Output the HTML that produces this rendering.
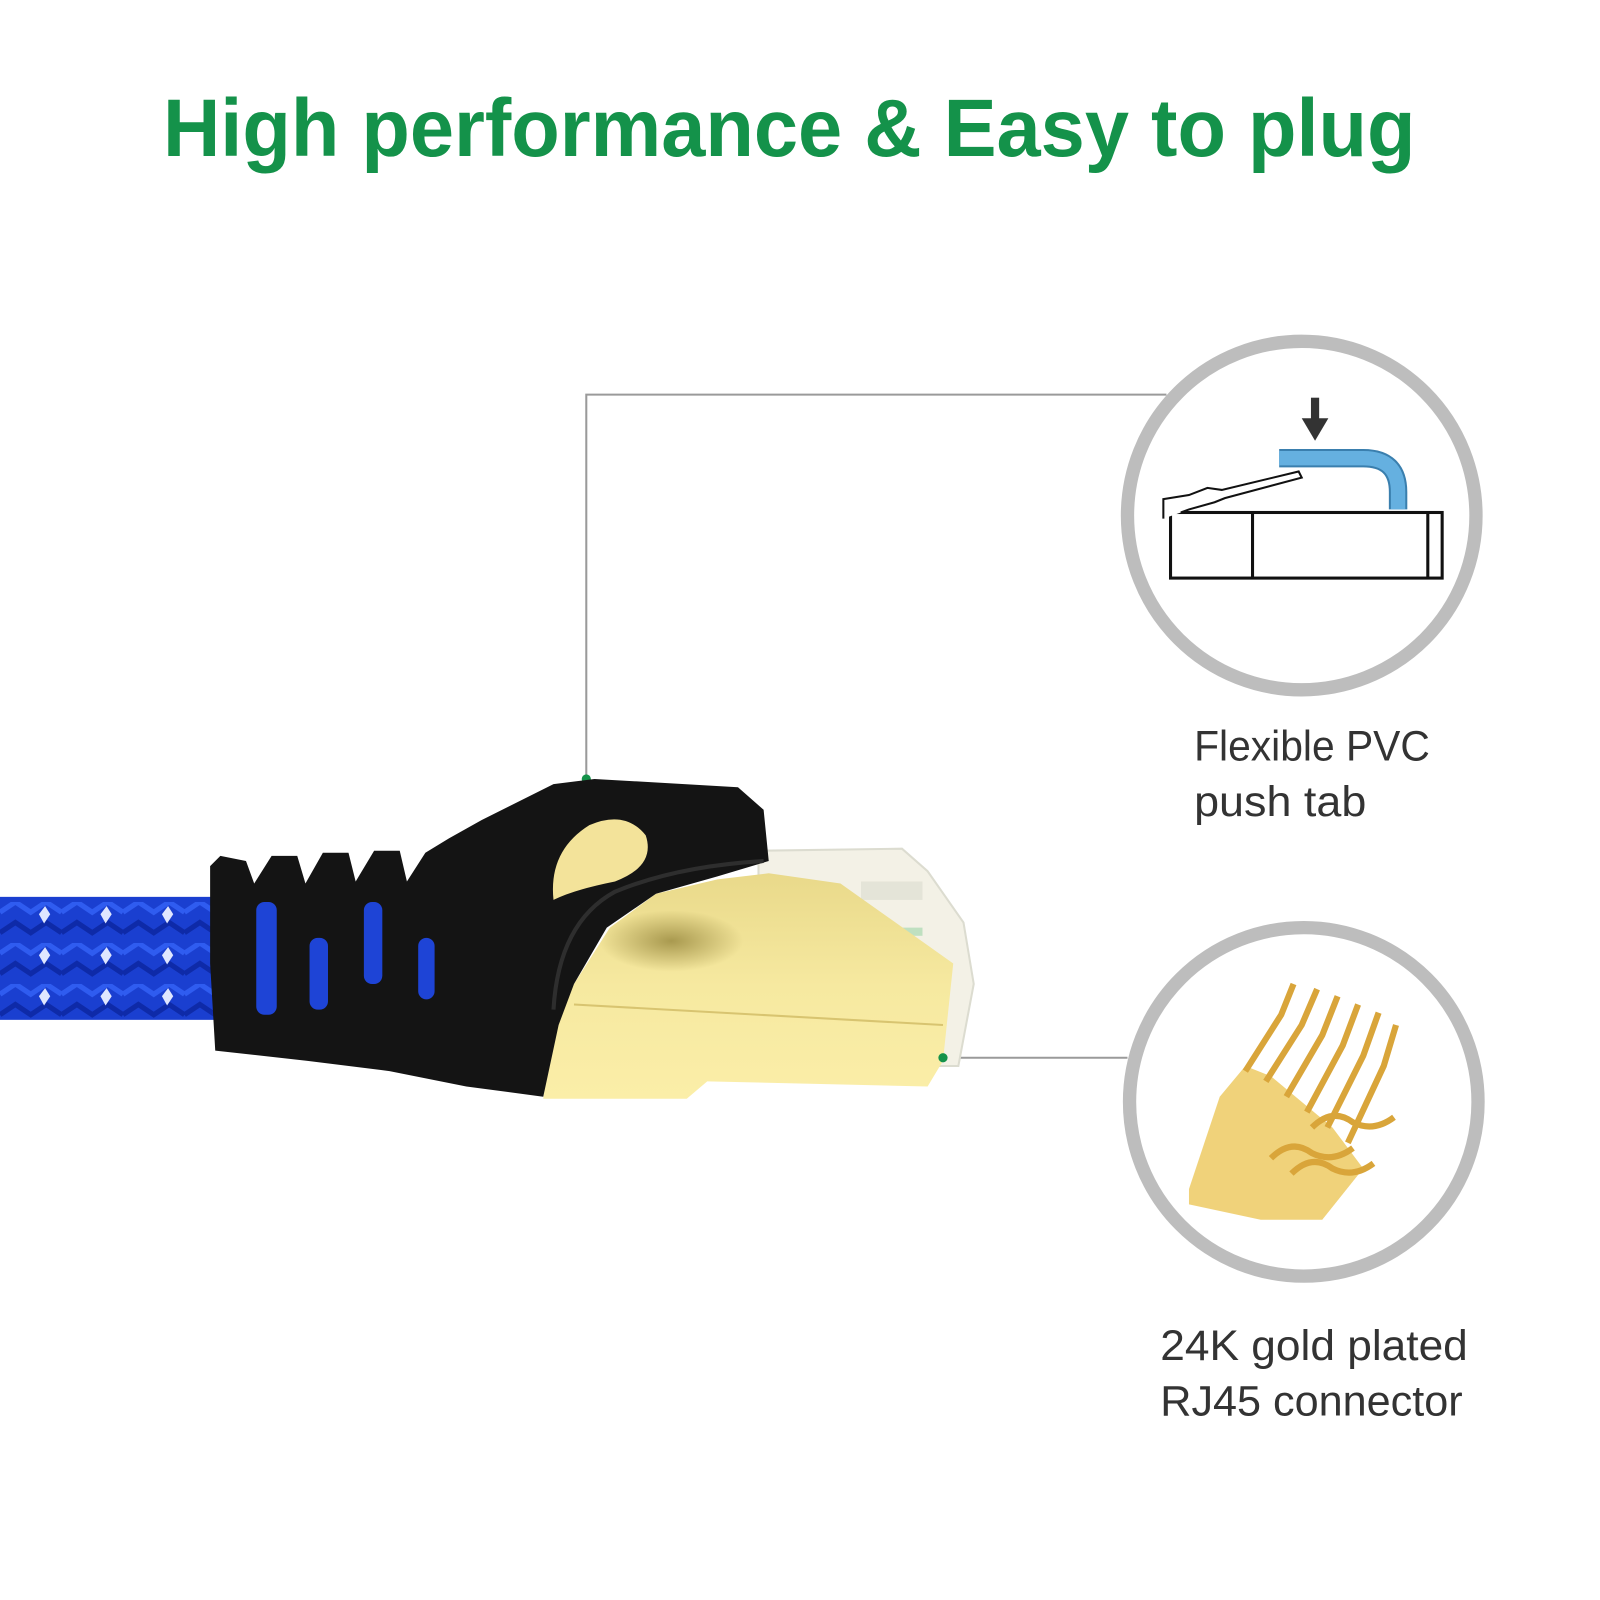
<!DOCTYPE html>
<html><head><meta charset="utf-8"><style>
html,body{margin:0;padding:0;background:#fff;}
svg{display:block;}
</style></head><body>
<svg width="1600" height="1600" viewBox="0 0 1561 1561" xmlns="http://www.w3.org/2000/svg">
<defs>
<linearGradient id="gold" x1="0" y1="0" x2="0" y2="1">
<stop offset="0" stop-color="#e9d98a"/><stop offset="0.5" stop-color="#f6e9a0"/><stop offset="1" stop-color="#fbeea8"/>
</linearGradient>
<radialGradient id="shade" cx="0.5" cy="0.5" r="0.5">
<stop offset="0" stop-color="#8a7a30" stop-opacity="0.7"/><stop offset="1" stop-color="#8a7a30" stop-opacity="0"/>
</radialGradient>
<pattern id="braid" width="60" height="40" patternUnits="userSpaceOnUse">
<rect width="60" height="40" fill="#1a3fd0"/>
<path d="M0 10 L15 0 L30 10 L45 0 L60 10" stroke="#2f5cf0" stroke-width="5" fill="none"/>
<path d="M0 30 L15 20 L30 30 L45 20 L60 30" stroke="#0e2aa8" stroke-width="5" fill="none"/>
<path d="M38 12 l6 -8 l5 8 l-6 9z" fill="#dfe6ff"/>
</pattern>
</defs>

<text x="770" y="152" text-anchor="middle" font-family="Liberation Sans, sans-serif" font-weight="bold" font-size="80" fill="#14924a" textLength="1222" lengthAdjust="spacingAndGlyphs">High performance &amp; Easy to plug</text>

<!-- connector lines -->
<polyline points="572,760 572,385 1138,385" fill="none" stroke="#9a9a9a" stroke-width="2"/>
<circle cx="572" cy="760" r="4.5" fill="#14924a"/>
<line x1="920" y1="1032" x2="1100" y2="1032" stroke="#9a9a9a" stroke-width="2"/>

<!-- cable -->
<rect x="0" y="875" width="235" height="120" fill="url(#braid)"/>
<!-- transparent plug -->
<polygon points="740,830 880,828 905,850 940,900 950,960 935,1040 905,1040 740,1000" fill="#f3f1e6" stroke="#dcdcd0" stroke-width="2"/>
<rect x="840" y="860" width="60" height="18" fill="#e4e4d8"/>
<rect x="860" y="905" width="40" height="8" fill="#bfe0c0"/>
<rect x="850" y="960" width="60" height="10" fill="#eac9a0"/>
<!-- gold shell -->
<polygon points="540,1000 560,960 595,905 640,872 700,858 750,852 820,862 930,940 920,1035 905,1060 690,1055 670,1072 530,1072" fill="url(#gold)"/>
<ellipse cx="655" cy="918" rx="70" ry="30" fill="url(#shade)"/>
<line x1="560" y1="980" x2="920" y2="1000" stroke="#d8c470" stroke-width="2"/>
<!-- black boot -->
<polygon points="205,845 215,835 240,840 248,862 265,835 290,835 298,862 315,832 340,832 347,860 365,830 390,830 397,860 415,832 438,818 470,800 540,765 580,760 720,768 745,790 750,840 700,855 640,872 592,905 560,960 545,1000 530,1070 455,1060 380,1045 300,1035 210,1025 205,940" fill="#141414"/>
<path d="M540,985 Q545,900 600,870 Q660,845 745,840" fill="none" stroke="#2e2e2e" stroke-width="4"/>
<!-- yellow window -->
<path d="M540,878 Q535,830 575,805 Q610,790 630,815 Q640,845 600,860 Q560,868 540,878z" fill="#f3e39a"/>
<!-- blue slots -->
<rect x="250" y="880" width="20" height="110" rx="8" fill="#1e44d6"/>
<rect x="302" y="915" width="18" height="70" rx="8" fill="#1e44d6"/>
<rect x="355" y="880" width="18" height="80" rx="8" fill="#1e44d6"/>
<rect x="408" y="915" width="16" height="60" rx="8" fill="#1e44d6"/>
<circle cx="920" cy="1032" r="4.5" fill="#14924a"/>

<!-- circle 1 -->
<circle cx="1270" cy="503" r="170" fill="#fff" stroke="#bdbdbd" stroke-width="13"/>
<rect x="1142" y="500" width="265" height="64" fill="#fff" stroke="#111" stroke-width="3"/>
<line x1="1222" y1="500" x2="1222" y2="564" stroke="#111" stroke-width="3"/>
<line x1="1393" y1="500" x2="1393" y2="564" stroke="#111" stroke-width="3"/>
<path d="M1135,506 L1135,487 L1160,483 L1178,476 L1192,478 L1267,460 L1270,466 L1195,486 L1185,490 L1160,497 L1152,500" fill="#fff" stroke="#111" stroke-width="2"/>
<path d="M1248,447 L1330,447 Q1364,447 1364,480 L1364,497" fill="none" stroke="#3a7fae" stroke-width="18" stroke-linecap="butt"/>
<path d="M1248,447 L1330,447 Q1364,447 1364,480 L1364,497" fill="none" stroke="#65b0e0" stroke-width="14"/>
<rect x="1279" y="388" width="8" height="22" fill="#333"/>
<polygon points="1270,408 1296,408 1283,430" fill="#333"/>
<text x="1165" y="742" font-family="Liberation Sans, sans-serif" font-size="42" fill="#333" textLength="230" lengthAdjust="spacingAndGlyphs">Flexible PVC</text>
<text x="1165" y="796" font-family="Liberation Sans, sans-serif" font-size="42" fill="#333" textLength="168" lengthAdjust="spacingAndGlyphs">push tab</text>

<!-- circle 2 -->
<circle cx="1272" cy="1075" r="170" fill="#fff" stroke="#bdbdbd" stroke-width="13"/>
<path d="M1160,1160 L1190,1070 L1215,1040 L1240,1050 L1300,1100 L1330,1140 L1290,1190 L1230,1190 L1160,1175z" fill="#f0d27a"/>
<g stroke="#d9a53a" stroke-width="6" fill="none">
<path d="M1215,1045 L1250,990 L1262,960"/>
<path d="M1235,1055 L1270,1000 L1285,965"/>
<path d="M1255,1070 L1290,1010 L1305,972"/>
<path d="M1275,1085 L1310,1020 L1325,980"/>
<path d="M1295,1100 L1330,1030 L1345,988"/>
<path d="M1315,1115 L1350,1040 L1362,1000"/>
<path d="M1240,1130 q20,-20 40,-5 q20,10 40,-5"/>
<path d="M1260,1145 q20,-20 40,-5 q20,10 40,-5"/>
<path d="M1280,1100 q20,-20 40,-5 q20,10 40,-5"/>
</g>
<text x="1132" y="1327" font-family="Liberation Sans, sans-serif" font-size="42" fill="#333" textLength="300" lengthAdjust="spacingAndGlyphs">24K gold plated</text>
<text x="1132" y="1381" font-family="Liberation Sans, sans-serif" font-size="42" fill="#333" textLength="295" lengthAdjust="spacingAndGlyphs">RJ45 connector</text>
</svg>
</body></html>
